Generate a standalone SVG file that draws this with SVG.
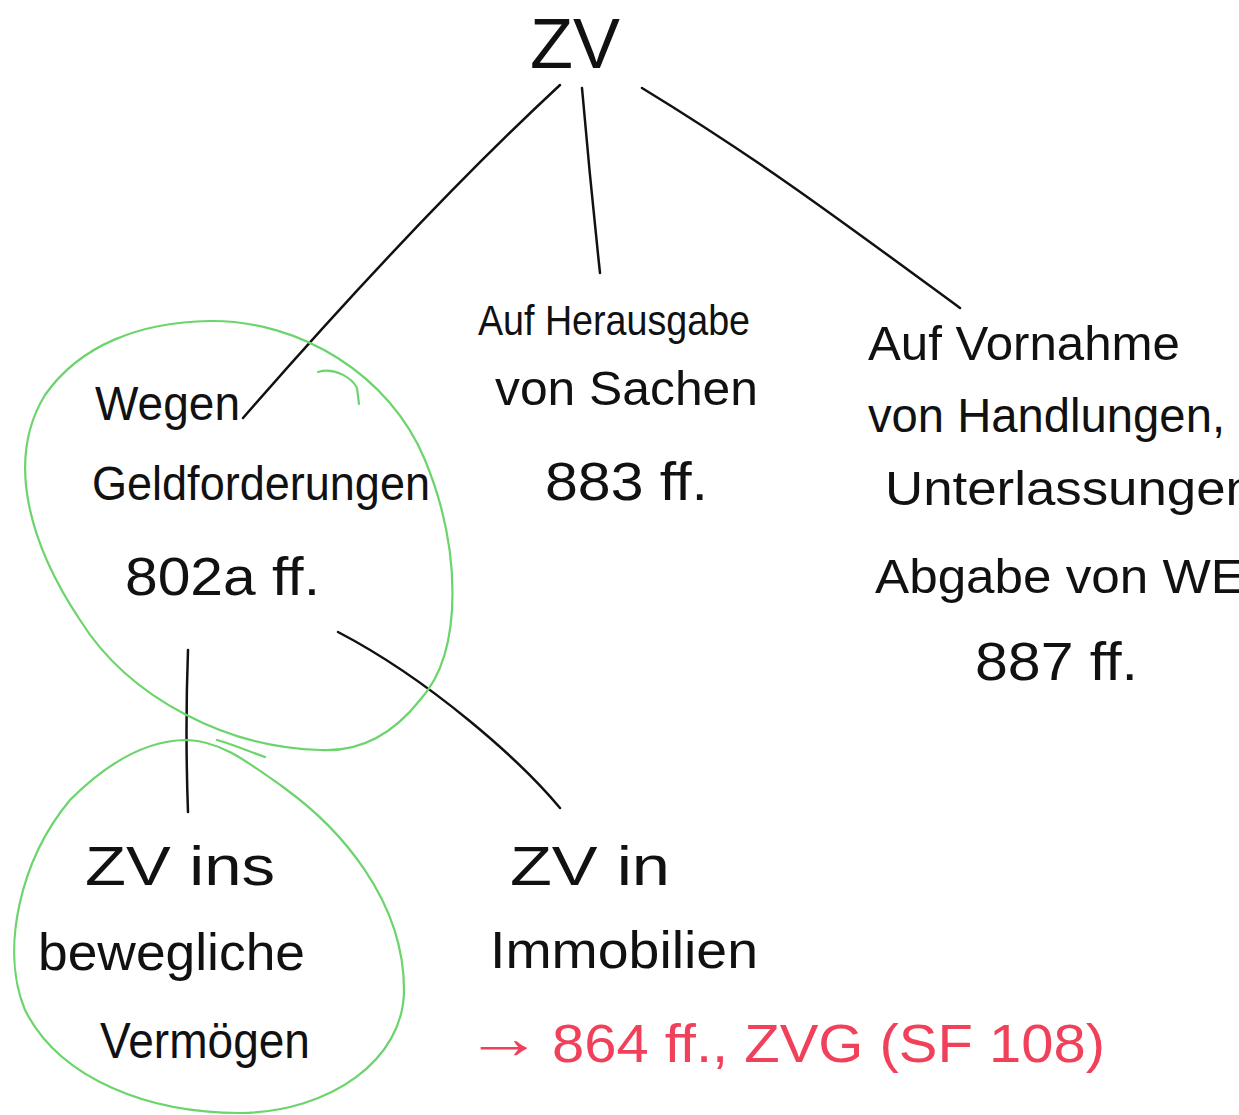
<svg xmlns="http://www.w3.org/2000/svg" width="1239" height="1115" viewBox="0 0 1239 1115">
<style>
.t{font-family:"Liberation Sans","DejaVu Sans",sans-serif;fill:#111;}
.r{font-family:"Liberation Sans","DejaVu Sans",sans-serif;fill:#f0405a;}
.c{fill:none;stroke:#111;stroke-width:2.5;stroke-linecap:round;}
.g{fill:none;stroke:#6cd46c;stroke-width:2.2;stroke-linecap:round;}
</style>
<rect width="1239" height="1115" fill="#fff"/>
<g id="connectors">
<path class="c" d="M560,85 Q 420,215 243,418"/>
<path class="c" d="M582,88 Q 590,180 600,273"/>
<path class="c" d="M642,88 C 760,160 840,220 960,308"/>
<path class="c" d="M188,650 Q 185,730 188,812"/>
<path class="c" d="M338,632 C 430,680 520,760 560,808"/>
</g>
<g id="node-zv"><text class="t" x="530" y="68" font-size="70" textLength="90" lengthAdjust="spacingAndGlyphs">ZV</text></g>
<g id="node-herausgabe">
<text class="t" x="478" y="335" font-size="42" textLength="272" lengthAdjust="spacingAndGlyphs">Auf Herausgabe</text>
<text class="t" x="495" y="405" font-size="48" textLength="263" lengthAdjust="spacingAndGlyphs">von Sachen</text>
<text class="t" x="545" y="500" font-size="54" textLength="163" lengthAdjust="spacingAndGlyphs">883 ff.</text>
</g>
<g id="node-vornahme">
<text class="t" x="868" y="360" font-size="48" textLength="312" lengthAdjust="spacingAndGlyphs">Auf Vornahme</text>
<text class="t" x="868" y="432" font-size="48" textLength="357" lengthAdjust="spacingAndGlyphs">von Handlungen,</text>
<text class="t" x="885" y="505" font-size="48" textLength="370" lengthAdjust="spacingAndGlyphs">Unterlassungen</text>
<text class="t" x="875" y="593" font-size="48" textLength="370" lengthAdjust="spacingAndGlyphs">Abgabe von WE</text>
<text class="t" x="975" y="680" font-size="54" textLength="163" lengthAdjust="spacingAndGlyphs">887 ff.</text>
</g>
<g id="node-geld">
<path class="g" d="M210,321 C 300,320 390,375 425,460 C 460,545 465,650 420,700 C 390,738 355,752 320,750 C 230,748 130,700 80,620 C 30,545 5,460 45,395 C 80,345 140,322 210,321 Z"/>
<path class="g" d="M318,372 C 335,367 352,378 357,388 L359,404"/>
<text class="t" x="95" y="420" font-size="48" textLength="145" lengthAdjust="spacingAndGlyphs">Wegen</text>
<text class="t" x="92" y="500" font-size="48" textLength="338" lengthAdjust="spacingAndGlyphs">Geldforderungen</text>
<text class="t" x="125" y="595" font-size="54" textLength="195" lengthAdjust="spacingAndGlyphs">802a ff.</text>
</g>
<g id="node-beweglich">
<path class="g" d="M187,740 C 220,741 245,760 283,787 C 340,828 404,900 404,990 C 404,1060 330,1112 240,1113 C 150,1113 60,1080 25,1010 C 0,950 20,860 70,800 C 110,760 150,740 187,740 Z"/>
<path class="g" d="M217,740 C 235,745 250,752 265,757"/>
<text class="t" x="85" y="885" font-size="56" textLength="190" lengthAdjust="spacingAndGlyphs">ZV ins</text>
<text class="t" x="38" y="970" font-size="52" textLength="267" lengthAdjust="spacingAndGlyphs">bewegliche</text>
<text class="t" x="100" y="1058" font-size="50" textLength="210" lengthAdjust="spacingAndGlyphs">Vermögen</text>
</g>
<g id="node-immobilien">
<text class="t" x="510" y="885" font-size="56" textLength="160" lengthAdjust="spacingAndGlyphs">ZV in</text>
<text class="t" x="490" y="968" font-size="52" textLength="268" lengthAdjust="spacingAndGlyphs">Immobilien</text>
<text class="r" x="465" y="1058" font-size="60" textLength="78" lengthAdjust="spacingAndGlyphs">→</text>
<text class="r" x="552" y="1062" font-size="54" textLength="553" lengthAdjust="spacingAndGlyphs">864 ff., ZVG (SF 108)</text>
</g>
</svg>
